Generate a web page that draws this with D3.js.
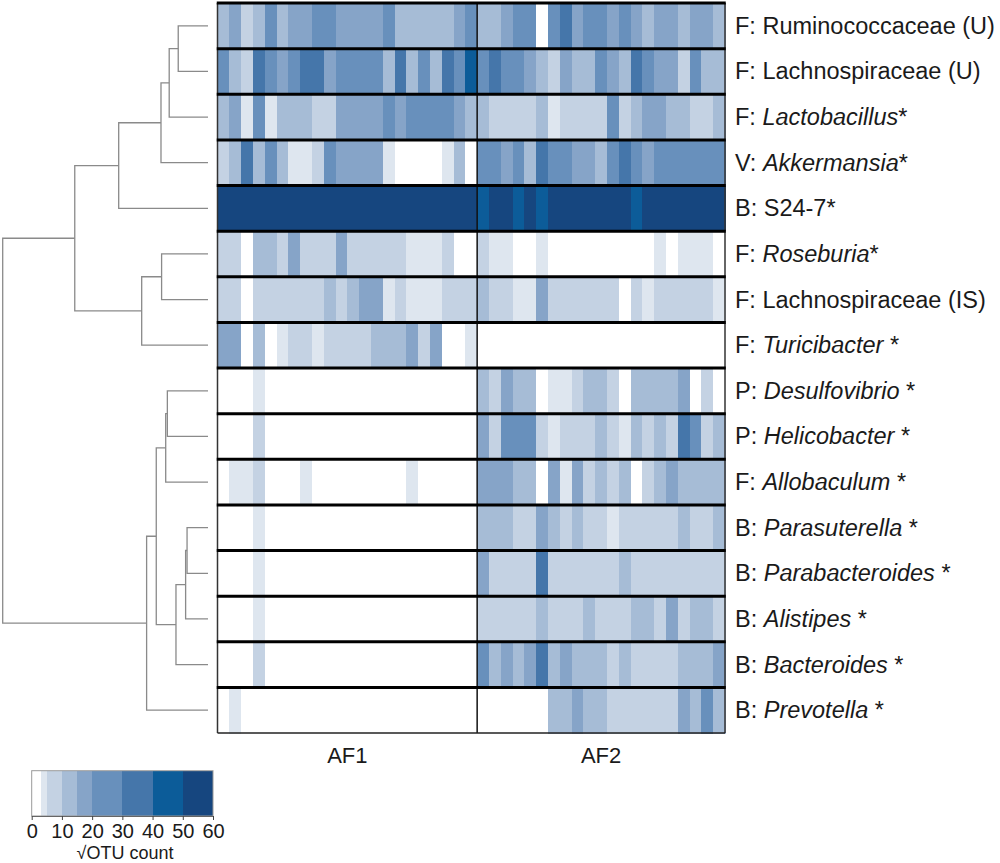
<!DOCTYPE html>
<html>
<head>
<meta charset="utf-8">
<script src="https://cdn.jsdelivr.net/npm/d3@7"></script>
<style>
  html, body { margin: 0; padding: 0; background: #fff; }
  svg { display: block; font-family: "Liberation Sans", Arial, sans-serif; }
</style>
</head>
<body>
<svg id="chart" width="1000" height="863"></svg>
<script>
// ---------- DATA ----------
const groups = ["AF1", "AF2"];

const taxaPrefix = ["F: ", "F: ", "F: ", "V: ", "B: ", "F: ", "F: ", "F: ",
                    "P: ", "P: ", "F: ", "B: ", "B: ", "B: ", "B: ", "B: "];
const taxaName = ["Ruminococcaceae (U)", "Lachnospiraceae (U)", "Lactobacillus", "Akkermansia",
                  "S24-7", "Roseburia", "Lachnospiraceae (IS)", "Turicibacter",
                  "Desulfovibrio", "Helicobacter", "Allobaculum", "Parasuterella",
                  "Parabacteroides", "Alistipes", "Bacteroides", "Prevotella"];
const taxaItalic = [false, false, true, true, false, true, false, true,
                    true, true, true, true, true, true, true, true];
const taxaSuffix = ["", "", "*", "*", "*", "*", "", " *",
                    " *", " *", " *", " *", " *", " *", " *", " *"];

// sqrt(OTU count) per taxon (row) and sample (column), AF1: 22 samples
const af1Values = [
  [12,18,8,12,25,12,18,18,25,25,18,18,18,18,25,12,12,12,12,12,18,25],
  [25,12,8,35,25,18,25,35,35,18,25,25,25,25,12,35,12,25,12,35,25,45],
  [12,18,4,25,4,12,12,12,8,8,18,18,18,18,25,18,25,25,25,25,18,12],
  [8,12,35,12,25,12,4,4,8,25,18,18,18,18,4,0,0,0,0,4,12,0],
  [55,55,55,55,55,55,55,55,55,55,55,55,55,55,55,55,55,55,55,55,55,55],
  [8,8,0,12,12,8,18,8,8,8,18,8,8,8,8,8,4,4,4,8,0,0],
  [8,8,0,8,8,8,8,8,8,12,8,12,18,18,4,8,4,4,4,8,8,8],
  [18,18,0,12,0,4,8,8,4,8,8,8,8,12,12,12,18,8,18,0,0,4],
  [0,0,0,4,0,0,0,0,0,0,0,0,0,0,0,0,0,0,0,0,0,0],
  [0,0,0,8,0,0,0,0,0,0,0,0,0,0,0,0,0,0,0,0,0,0],
  [0,4,4,8,0,0,0,4,0,0,0,0,0,0,0,0,4,0,0,0,0,0],
  [0,0,0,4,0,0,0,0,0,0,0,0,0,0,0,0,0,0,0,0,0,0],
  [0,0,0,4,0,0,0,0,0,0,0,0,0,0,0,0,0,0,0,0,0,0],
  [0,0,0,4,0,0,0,0,0,0,0,0,0,0,0,0,0,0,0,0,0,0],
  [0,0,0,8,0,0,0,0,0,0,0,0,0,0,0,0,0,0,0,0,0,0],
  [0,4,0,0,0,0,0,0,0,0,0,0,0,0,0,0,0,0,0,0,0,0]
];

// AF2: 21 samples
const af2Values = [
  [12,12,18,25,25,0,25,35,18,25,25,18,25,18,12,18,18,12,18,18,12],
  [25,35,25,25,18,12,8,18,12,12,25,18,12,35,25,18,18,8,25,12,12],
  [12,8,8,8,8,12,4,8,8,8,8,25,8,12,18,18,12,12,8,8,12],
  [25,25,18,25,12,35,25,25,18,18,12,25,35,25,18,25,25,25,25,25,25],
  [45,55,55,45,55,45,55,55,55,55,55,55,55,45,55,55,55,55,55,55,55],
  [8,4,4,0,0,4,0,0,0,0,0,0,0,0,0,4,0,4,4,4,0],
  [12,8,8,4,4,18,8,8,8,8,8,8,0,8,4,8,8,8,8,8,4],
  [0,0,0,0,0,0,0,0,0,0,0,0,0,0,0,0,0,0,0,0,0],
  [12,8,18,12,12,0,4,4,8,12,12,8,0,12,12,12,12,18,0,8,0],
  [18,8,25,25,25,8,4,8,8,8,12,8,4,12,8,12,8,35,25,8,12],
  [18,18,18,12,12,0,18,4,18,8,12,8,12,0,8,12,18,12,12,12,12],
  [12,12,12,8,8,18,12,8,12,8,8,4,8,8,8,8,8,12,8,8,12],
  [18,8,8,8,8,35,8,8,8,8,8,8,12,8,8,8,8,8,8,8,8],
  [8,8,8,8,8,12,8,8,8,12,8,8,8,12,12,8,18,8,12,12,8],
  [25,12,18,12,18,35,12,18,12,12,12,8,12,8,8,8,8,12,12,12,18],
  [0,0,0,0,0,0,12,12,18,12,12,8,8,8,8,8,8,18,12,25,12]
];

// colour scale bins (sqrt OTU count)
const colorBreaks = [3, 5, 10, 15, 20, 30, 40, 50];
const colorRange = ["#ffffff", "#dee6ef", "#c4d2e3", "#a6bcd6", "#86a4c8",
                    "#6890bc", "#4576aa", "#0c5c99", "#16467f"];
const legendBins = [0, 3, 5, 10, 15, 20, 30, 40, 50, 60];
const legendTicks = [0, 10, 20, 30, 40, 50, 60];
const legendTitle = "\u221AOTU count";

// dendrogram (leaf = row index, h = merge height)
const dendrogram = {h: 1.0, children: [
  {h: 0.649, children: [
    {h: 0.435, children: [
      {h: 0.229, children: [
        {h: 0.189, children: [
          {h: 0.145, children: [{leaf: 0}, {leaf: 1}]},
          {leaf: 2}
        ]},
        {leaf: 3}
      ]},
      {leaf: 4}
    ]},
    {h: 0.323, children: [
      {h: 0.226, children: [{leaf: 5}, {leaf: 6}]},
      {leaf: 7}
    ]}
  ]},
  {h: 0.299, children: [
    {h: 0.252, children: [
      {h: 0.206, children: [
        {h: 0.198, children: [{leaf: 8}, {leaf: 9}]},
        {leaf: 10}
      ]},
      {h: 0.156, children: [
        {h: 0.109, children: [
          {h: 0.102, children: [{leaf: 11}, {leaf: 12}]},
          {leaf: 13}
        ]},
        {leaf: 14}
      ]}
    ]},
    {leaf: 15}
  ]}
]};

// ---------- DRAW ----------
const svg = d3.select("#chart");
const nRows = taxaName.length;
const n1 = af1Values[0].length, n2 = af2Values[0].length;

const heatLeft = 217.5, heatRight = 725, heatTop = 3, heatBottom = 733;

const y = d3.scaleBand().domain(d3.range(nRows)).range([heatTop, heatBottom]);
const x = d3.scaleBand().domain(d3.range(n1 + n2)).range([heatLeft, heatRight]);
const color = d3.scaleThreshold().domain(colorBreaks).range(colorRange);

// cells
const cells = [];
for (let r = 0; r < nRows; r++) {
  af1Values[r].forEach((v, c) => cells.push({r, c, v}));
  af2Values[r].forEach((v, c) => cells.push({r, c: n1 + c, v}));
}
svg.append("g").selectAll("rect").data(cells).join("rect")
  .attr("x", d => x(d.c))
  .attr("y", d => y(d.r))
  .attr("width", x.bandwidth() + 0.5)
  .attr("height", y.bandwidth() + 0.5)
  .attr("fill", d => color(d.v))
  .attr("shape-rendering", "crispEdges");

// frame
const frame = svg.append("g");
frame.append("line").attr("x1", heatLeft).attr("x2", heatLeft)
  .attr("y1", heatTop).attr("y2", heatBottom).attr("stroke", "#333").attr("stroke-width", 1.5);
frame.append("line").attr("x1", heatRight).attr("x2", heatRight)
  .attr("y1", heatTop).attr("y2", heatBottom).attr("stroke", "#333").attr("stroke-width", 1.5);
frame.append("line").attr("x1", x(n1)).attr("x2", x(n1))
  .attr("y1", heatTop).attr("y2", heatBottom).attr("stroke", "#111").attr("stroke-width", 1.5);
frame.append("line").attr("x1", heatLeft).attr("x2", heatRight)
  .attr("y1", heatBottom).attr("y2", heatBottom).attr("stroke", "#222").attr("stroke-width", 1.5);
frame.selectAll("line.sep").data(d3.range(nRows)).join("line")
  .attr("class", "sep")
  .attr("x1", heatLeft - 0.75).attr("x2", heatRight + 0.75)
  .attr("y1", d => y(d)).attr("y2", d => y(d))
  .attr("stroke", "#000").attr("stroke-width", 3);

// row labels
const labels = svg.append("g").attr("font-size", 23.5).attr("fill", "#1a1a1a");
d3.range(nRows).forEach(i => {
  const t = labels.append("text")
    .attr("x", 735)
    .attr("y", y(i) + y.bandwidth() / 2 + 8);
  t.append("tspan").text(taxaPrefix[i]);
  t.append("tspan").attr("font-style", taxaItalic[i] ? "italic" : "normal").text(taxaName[i]);
  if (taxaSuffix[i]) t.append("tspan").text(taxaSuffix[i]);
});

// group labels
const groupCenters = [(heatLeft + x(n1)) / 2, (x(n1) + heatRight) / 2];
svg.append("g").selectAll("text").data(groups).join("text")
  .attr("x", (d, i) => groupCenters[i])
  .attr("y", 763)
  .attr("text-anchor", "middle")
  .attr("font-size", 22)
  .attr("fill", "#1a1a1a")
  .text(d => d);

// dendrogram
const root = d3.hierarchy(dendrogram);
const hx = d3.scaleLinear().domain([0, 1]).range([208, 2.7]);
root.eachAfter(n => {
  if (n.data.leaf !== undefined) {
    n.py = y(n.data.leaf) + y.bandwidth() / 2;
    n.px = hx(0);
  } else {
    n.py = (n.children[0].py + n.children[n.children.length - 1].py) / 2;
    n.px = hx(n.data.h);
  }
});
const dend = svg.append("g").attr("fill", "none").attr("stroke", "#8a8a8a").attr("stroke-width", 1.3);
root.descendants().filter(n => n.children).forEach(n => {
  const c0 = n.children[0], c1 = n.children[n.children.length - 1];
  dend.append("path").attr("d", d3.line()([[c0.px, c0.py], [n.px, c0.py], [n.px, c1.py], [c1.px, c1.py]]));
});

// legend
const lx = d3.scaleLinear().domain([0, 60]).range([31.7, 213]);
const legTop = 770.7, legBottom = 816;
const leg = svg.append("g");
leg.selectAll("rect").data(d3.pairs(legendBins)).join("rect")
  .attr("x", d => lx(d[0]))
  .attr("y", legTop)
  .attr("width", d => lx(d[1]) - lx(d[0]) + 0.3)
  .attr("height", legBottom - legTop)
  .attr("fill", d => color(d[0]))
  .attr("shape-rendering", "crispEdges");
leg.append("rect")
  .attr("x", lx(0)).attr("y", legTop)
  .attr("width", lx(60) - lx(0)).attr("height", legBottom - legTop)
  .attr("fill", "none").attr("stroke", "#999").attr("stroke-width", 1);
const axis = leg.append("g")
  .attr("transform", `translate(0,${legBottom})`)
  .call(d3.axisBottom(lx).tickValues(legendTicks).tickSize(4).tickSizeOuter(0).tickPadding(4));
axis.attr("font-size", 20).attr("font-family", "'Liberation Sans', Arial, sans-serif");
axis.select(".domain").attr("stroke", "#666");
axis.selectAll(".tick line").attr("stroke", "#444");
axis.selectAll(".tick text").attr("fill", "#1a1a1a");
leg.append("text")
  .attr("x", 125).attr("y", 859)
  .attr("text-anchor", "middle")
  .attr("font-size", 18)
  .attr("fill", "#1a1a1a")
  .text(legendTitle);
</script>
</body>
</html>
